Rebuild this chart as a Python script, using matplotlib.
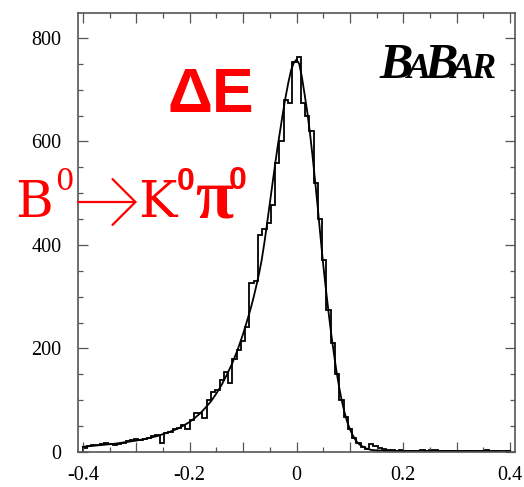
"""
Delta E distribution for B0 -> K0 pi0 (BaBar style), histogram + fit curve
"""
import matplotlib
matplotlib.use("Agg")
import matplotlib.pyplot as plt
import numpy as np

# histogram range / binning
X_MIN, X_MAX, N_BINS = -0.4, 0.4, 100

# bin contents, bins of 0.008 from -0.4 to 0.4
counts = [
    8, 12, 13, 14, 16, 17, 15, 14, 15, 18,
    21, 24, 25, 24, 26, 27, 30, 32, 18, 37,
    38, 44, 47, 52, 45, 62, 76, 76, 65, 100,
    116, 120, 140, 155, 133, 180, 197, 215, 242, 326,
    330, 420, 430, 442, 477, 558, 600, 680, 675, 754,
    763, 675, 650, 620, 520, 450, 371, 275, 210, 150,
    100, 68, 44, 28, 18, 9, 6, 15, 12, 7,
    5, 4, 4, 2, 3, 2, 1, 2, 2, 3,
    2, 4, 3, 2, 1, 2, 1, 1, 0, 1,
    2, 1, 0, 1, 3, 0, 1, 0, 0, 1,
]

# fit curve
fit_x = [-0.40, -0.38, -0.36, -0.34, -0.32, -0.30, -0.28, -0.26, -0.24, -0.22,
         -0.20, -0.19, -0.18, -0.17, -0.16, -0.15, -0.14, -0.13, -0.12, -0.11,
         -0.10, -0.095, -0.09, -0.085, -0.08, -0.075, -0.07, -0.065, -0.06, -0.055,
         -0.05, -0.045, -0.04, -0.035, -0.03, -0.025, -0.02, -0.015, -0.01, -0.005,
         0.0, 0.005, 0.01, 0.015, 0.02, 0.025, 0.03, 0.035, 0.04, 0.045,
         0.05, 0.055, 0.06, 0.065, 0.07, 0.075, 0.08, 0.085, 0.09, 0.095,
         0.10, 0.105, 0.11, 0.115, 0.12, 0.13, 0.14, 0.15, 0.17, 0.20,
         0.25, 0.30, 0.35, 0.40]
fit_y = [10, 12, 14, 16, 19, 22, 26, 31, 38, 46,
         58, 66, 75, 86, 98, 113, 130, 150, 172, 198,
         228, 245, 262, 280, 300, 322, 345, 372, 405, 442,
         480, 518, 556, 592, 625, 658, 688, 715, 738, 752,
         758, 750, 725, 692, 658, 618, 572, 522, 470, 415,
         362, 315, 270, 228, 190, 155, 124, 98, 76, 58,
         44, 33, 24, 17, 13, 7, 4, 3, 2, 2,
         2, 2, 2, 2]

x_ticks = [-0.4, -0.3, -0.2, -0.1, 0.0, 0.1, 0.2, 0.3, 0.4]
x_ticklabels = ['-0.4', '', '-0.2', '', '0', '', '0.2', '', '0.4']
y_ticks = [0, 200, 400, 600, 800]

W, H = 524, 487
fig = plt.figure(figsize=(W / 100, H / 100), dpi=100)
ax = fig.add_axes([78 / W, 1 - 452 / H, (515 - 78) / W, (452 - 13) / H])

edges = np.linspace(X_MIN, X_MAX, N_BINS + 1)
ax.stairs(counts, edges, color='black', lw=1.3)
ax.plot(fit_x, fit_y, color='black', lw=1.3)

ax.set_xlim(-0.409, 0.409)
ax.set_ylim(0, 848)

ax.set_xticks(x_ticks)
ax.set_xticklabels(x_ticklabels)
ax.set_xticks(np.arange(-0.4, 0.401, 0.05), minor=True)
ax.set_yticks(y_ticks)
ax.set_yticks(np.arange(0, 849, 50), minor=True)

for s in ax.spines.values():
    s.set_color('#555555')
    s.set_linewidth(1.2)
ax.tick_params(which='both', direction='in', top=True, right=True,
               color='#555555', width=0.9, labelsize=14.5)
ax.tick_params(axis='y', pad=12)
ax.tick_params(axis='x', pad=10)
ax.tick_params(which='major', length=7)
ax.tick_params(which='minor', length=3.5)
for lab in ax.get_xticklabels() + ax.get_yticklabels():
    lab.set_fontfamily('Liberation Serif')


def fpx(x, y):
    return x / W, 1 - y / H


# red annotations
fig.text(*fpx(211, 112), '\u0394E', color='red', fontsize=45,
         fontfamily='Liberation Sans', fontweight='bold', ha='center', va='baseline')
fig.text(*fpx(15, 217), 'B', color='red', fontsize=37,
         fontfamily='DejaVu Serif', ha='left', va='baseline')
fig.text(*fpx(55, 190), '0', color='red', fontsize=21,
         fontfamily='DejaVu Serif', ha='left', va='baseline')
ax.annotate('', xy=(137, H - 202), xytext=(78, H - 202), xycoords='figure pixels',
            textcoords='figure pixels',
            arrowprops=dict(arrowstyle='->,head_length=0.55,head_width=0.55',
                            color='red', lw=1.6, mutation_scale=30,
                            shrinkA=0, shrinkB=0))
fig.text(*fpx(138, 217), 'K', color='red', fontsize=37,
         fontfamily='DejaVu Serif', ha='left', va='baseline')
fig.text(*fpx(177, 190), '0', color='red', fontsize=23,
         fontfamily='Liberation Sans', fontweight='bold', ha='left', va='baseline')
fig.text(*fpx(195, 217), '\u03c0', color='red', fontsize=50,
         fontfamily='Liberation Serif', fontweight='bold', ha='left', va='baseline')
fig.text(*fpx(229, 189), '0', color='red', fontsize=23,
         fontfamily='Liberation Sans', fontweight='bold', ha='left', va='baseline')

# BaBar logo
logo = [('B', 379, 36), ('A', 407, 26), ('B', 424, 36), ('A', 451, 26), ('R', 471, 26)]
for ch, xp, fs in logo:
    fig.text(*fpx(xp, 78), ch, color='black', fontsize=fs, fontfamily='Liberation Serif',
             fontweight='bold', fontstyle='italic', ha='left', va='baseline')

fig.savefig('out.png', dpi=100)
